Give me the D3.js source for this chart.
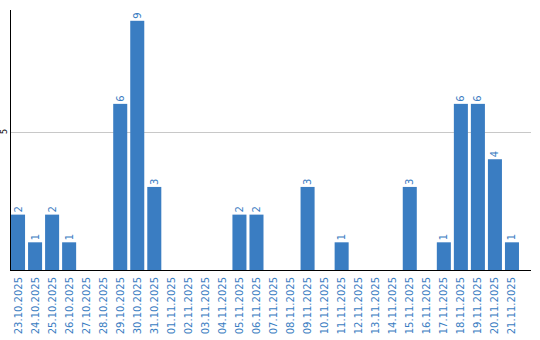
<!DOCTYPE html>
<html>
<head>
<meta charset="utf-8">
<script src="https://cdn.jsdelivr.net/npm/d3@7"></script>
<style>
  body { margin: 0; background: #fff; }
  text { font-family: "DejaVu Sans", Verdana, sans-serif; }
</style>
</head>
<body>
<svg id="chart"></svg>
<script>
var svgWidth = 540, svgHeight = 340;

var days = ["23.10.2025","24.10.2025","25.10.2025","26.10.2025","27.10.2025","28.10.2025",
  "29.10.2025","30.10.2025","31.10.2025","01.11.2025","02.11.2025","03.11.2025","04.11.2025",
  "05.11.2025","06.11.2025","07.11.2025","08.11.2025","09.11.2025","10.11.2025","11.11.2025",
  "12.11.2025","13.11.2025","14.11.2025","15.11.2025","16.11.2025","17.11.2025","18.11.2025",
  "19.11.2025","20.11.2025","21.11.2025"];
var counts = [2,1,2,1,0,0,6,9,3,0,0,0,0,2,2,0,0,3,0,1,0,0,0,3,0,1,6,6,4,1];
var yTicks = [5];

var blue = "#3a7dc2";

var svg = d3.select("#chart")
    .attr("width", svgWidth)
    .attr("height", svgHeight);

var x = d3.scaleBand()
    .domain(days)
    .range([10, 520])
    .paddingInner(3/17)
    .paddingOuter(0.06);

var y = d3.scaleLinear()
    .domain([0, 9.39])
    .range([270, 10]);

// grid line
svg.append("g")
  .selectAll("line")
  .data(yTicks)
  .enter()
  .append("line")
    .attr("x1", 10)
    .attr("x2", 531)
    .attr("y1", d => Math.round(y(d)) + 0.5)
    .attr("y2", d => Math.round(y(d)) + 0.5)
    .attr("stroke", "#c8c8c8");

// y tick labels
svg.append("g")
  .selectAll("text")
  .data(yTicks)
  .enter()
  .append("text")
    .attr("transform", d => "translate(7," + y(d) + ") rotate(-90)")
    .attr("text-anchor", "middle")
    .attr("font-size", 8)
    .attr("fill", "#000")
    .text(d => d);

var groups = svg.append("g")
  .selectAll("g")
  .data(days)
  .enter()
  .append("g");

groups.filter((d,i) => counts[i] > 0)
  .append("rect")
    .attr("x", d => x(d))
    .attr("y", (d,i) => y(counts[days.indexOf(d)]))
    .attr("width", x.bandwidth())
    .attr("height", d => y(0) - y(counts[days.indexOf(d)]))
    .attr("fill", blue);

groups.filter((d,i) => counts[i] > 0)
  .append("text")
    .attr("transform", d => "translate(" + (x(d) + x.bandwidth()/2) + "," + (y(counts[days.indexOf(d)]) - 2) + ") rotate(-90)")
    .attr("dy", "0.35em")
    .attr("font-size", 10)
    .attr("fill", blue)
    .text(d => counts[days.indexOf(d)]);

// x labels
groups.append("text")
    .attr("transform", d => "translate(" + (x(d) + x.bandwidth()/2) + ",277) rotate(-90)")
    .attr("text-anchor", "end")
    .attr("dy", "0.35em")
    .attr("font-size", 10)
    .attr("fill", blue)
    .text(d => d);

// axes lines
svg.append("line")
    .attr("x1", 10.5).attr("x2", 10.5)
    .attr("y1", 10).attr("y2", 270)
    .attr("stroke", "#000");

svg.append("line")
    .attr("x1", 10).attr("x2", 531)
    .attr("y1", 270.5).attr("y2", 270.5)
    .attr("stroke", "#000");
</script>
</body>
</html>
